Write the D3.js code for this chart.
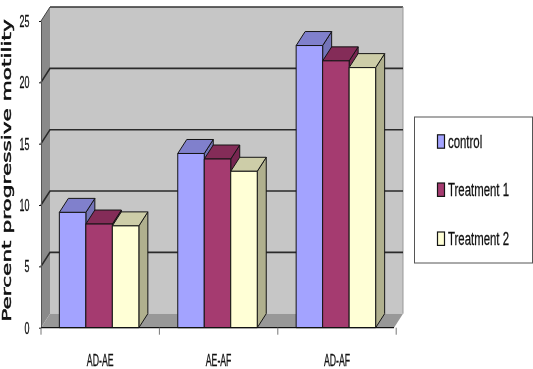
<!DOCTYPE html>
<html><head><meta charset="utf-8">
<script src="https://cdn.jsdelivr.net/npm/d3@7"></script>
<style>html,body{margin:0;padding:0;background:#fff}svg{display:block;filter:blur(0.35px)}
.n{font-family:"Liberation Sans",sans-serif;fill:#111;stroke:#111;stroke-width:0.3}</style>
</head><body><svg id="c" width="533" height="369"></svg>
<script>
const categories = ["AD-AE","AE-AF","AD-AF"];
const seriesNames = ["control","Treatment 1","Treatment 2"];
const control = [9.4,14.2,23.0];
const treatment1 = [8.45,13.75,21.75];
const treatment2 = [8.3,12.75,21.2];
const yTicks = [0,5,10,15,20,25];
const frontColors = ["#a3a3ff","#a53b70","#ffffd6"];
const topColors = ["#8080cc","#842c58","#cdcda8"];
const sideColors = ["#7474b8","#772650","#b0b08e"];
const values = [control,treatment1,treatment2];

const svg = d3.select("#c");
const dx = 9, dy = -14;
const y = d3.scaleLinear().domain([0,25]).range([327.7,21]);
const x = d3.scaleBand().domain(categories).range([41,394]).paddingInner(0.3286).paddingOuter(0.155);
const xs = d3.scaleBand().domain(d3.range(3)).range([0,x.bandwidth()]);
const [x0,x1] = x.range();
const pts = a => a.map(p=>p.join(",")).join(" ");

// walls
svg.append("polygon").attr("points",pts([[x0+dx,y(25)+dy],[x1+dx,y(25)+dy],[x1+dx,y(0)+dy],[x0+dx,y(0)+dy]])).attr("fill","#c6c6c6");
svg.append("polygon").attr("points",pts([[x0,y(25)],[x0+dx,y(25)+dy],[x0+dx,y(0)+dy],[x0,y(0)]])).attr("fill","#8a8a8a");
svg.append("polygon").attr("points",pts([[x0,y(0)],[x0+dx,y(0)+dy],[x1+dx,y(0)+dy],[x1,y(0)]])).attr("fill","#989898");
// wall outline, top
svg.append("line").attr("x1",x0+dx).attr("x2",x1+dx).attr("y1",y(25)+dy).attr("y2",y(25)+dy).attr("stroke","#333").attr("stroke-width",1.6);
svg.append("line").attr("x1",x1+dx).attr("x2",x1+dx).attr("y1",y(25)+dy).attr("y2",y(0)+dy).attr("stroke","#999");
// gridlines
yTicks.filter(t=>t>0&&t<25).forEach(t=>{
  svg.append("polyline").attr("points",pts([[x0,y(t)],[x0+dx,y(t)+dy],[x1+dx,y(t)+dy]]))
    .attr("fill","none").attr("stroke","#2a2a2a").attr("stroke-width",1.6);
});
svg.append("line").attr("x1",x0).attr("x2",x0+dx).attr("y1",y(25)).attr("y2",y(25)+dy).attr("stroke","#444");

// bars
categories.forEach((c,i)=>{
  seriesNames.forEach((s,j)=>{
    const v = values[j][i], L = x(c)+xs(j), R = L+xs.bandwidth(), T = y(v), B = y(0);
    const g = svg.append("g").attr("stroke","#151515").attr("stroke-width",1).attr("stroke-linejoin","round");
    g.append("polygon").attr("points",pts([[R,T],[R+dx,T+dy],[R+dx,B+dy],[R,B]])).attr("fill",sideColors[j]);
    g.append("polygon").attr("points",pts([[L,T],[L+dx,T+dy],[R+dx,T+dy],[R,T]])).attr("fill",topColors[j]);
    g.append("rect").attr("x",L).attr("y",T).attr("width",R-L).attr("height",B-T).attr("fill",frontColors[j]);
  });
});

// y axis
const ya = svg.append("g").attr("transform",`translate(${x0},0)`).call(d3.axisLeft(y).tickValues(yTicks).tickSize(2).tickSizeOuter(0));
ya.select(".domain").attr("stroke","#555").attr("stroke-width",1);
ya.selectAll(".tick line").attr("stroke","#111");
ya.selectAll(".tick text").remove();
yTicks.forEach(t=>{
  svg.append("text").attr("class","n").attr("text-anchor","end").attr("font-size",16.5)
    .attr("transform",`translate(29.5,${y(t)+6}) scale(0.54,1)`).text(t);
});
// x axis
const xa = svg.append("g").attr("transform",`translate(0,${y(0)})`);
xa.append("line").attr("x1",x0).attr("x2",x1).attr("stroke","#111").attr("stroke-width",1.2);
const step = x.step();
[0,1,2,3].forEach(i=>{
  xa.append("line").attr("x1",x0+i*step).attr("x2",x0+i*step).attr("y1",0).attr("y2",7).attr("stroke","#777");
});
categories.forEach((c,i)=>{
  svg.append("text").attr("class","n").attr("text-anchor","middle").attr("font-size",16.5)
    .attr("transform",`translate(${x0+(i+0.5)*step},366) scale(0.53,1)`).text(c);
});

// y title
svg.append("text").attr("text-anchor","middle").attr("font-family","DejaVu Sans").attr("font-size",12.5).attr("fill","#111")
  .attr("stroke","#111").attr("stroke-width",0.45)
  .attr("transform","translate(11,170.5) rotate(-90) scale(1.73,1)").text("Percent progressive motility");

// legend
svg.append("rect").attr("x",414.5).attr("y",117).attr("width",118).attr("height",146).attr("fill","#fff").attr("stroke","#555").attr("stroke-width",1);
const ly = [141.5,189.7,238.7];
seriesNames.forEach((s,j)=>{
  svg.append("rect").attr("x",437.5).attr("y",ly[j]-6.7).attr("width",7).attr("height",13.4).attr("fill",frontColors[j]).attr("stroke","#151515").attr("stroke-width",1.2);
  svg.append("text").attr("class","n").attr("font-size",19).attr("transform",`translate(448,${ly[j]+6.6}) scale(0.6,1)`).text(s);
});
</script></body></html>
